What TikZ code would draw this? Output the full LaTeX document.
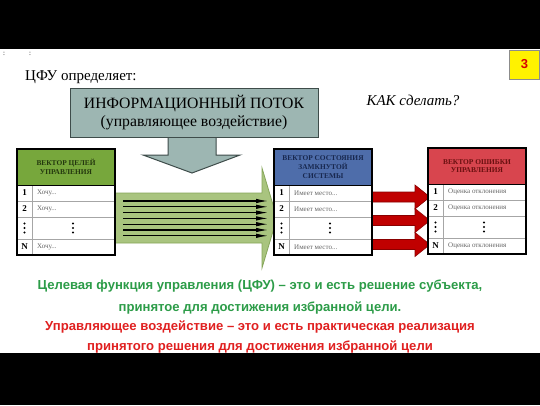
\documentclass[tikz,border=0pt]{standalone}
\usepackage{fontspec}
\setmainfont{Liberation Serif}
\newfontfamily\arialfont{Liberation Sans}
\usetikzlibrary{arrows.meta}
\definecolor{infobg}{HTML}{9DB6B2}
\definecolor{infoedge}{HTML}{3E4C4A}
\definecolor{gHead}{HTML}{77A73C}
\definecolor{gHeadTxt}{HTML}{24380E}
\definecolor{bHead}{HTML}{4E6DAA}
\definecolor{bHeadTxt}{HTML}{18284F}
\definecolor{rHead}{HTML}{D8454E}
\definecolor{rHeadTxt}{HTML}{6A1010}
\definecolor{gArrow}{HTML}{A9C47F}
\definecolor{gArrowEdge}{HTML}{86A65A}
\definecolor{rArrow}{HTML}{C00000}
\definecolor{rArrowEdge}{HTML}{8A0000}
\definecolor{txtGreen}{HTML}{2C9C48}
\definecolor{txtRed}{HTML}{E02020}
\tikzset{
  numtxt/.style={font=\bfseries\fontsize{9}{10}\selectfont, inner sep=0pt},
  rowtxt/.style={font=\fontsize{7}{8}\selectfont, text=black!60, inner sep=0pt, anchor=west},
  headtxt/.style={font=\bfseries\fontsize{7.4}{8.6}\selectfont, align=center, inner sep=0pt},
  bottomtxt/.style={font=\arialfont\bfseries\fontsize{13.1}{15}\selectfont, inner sep=0pt},
  blackline/.style={line width=1.1pt, -{Latex[length=12pt,width=4.5pt]}}
}
\newcommand\drawvtab[7]{%
  \begin{scope}[shift={(#2,#3)}]
    \fill[white] (0,0) rectangle (98,106);
    \fill[#4] (0,0) rectangle (98,36);
    \node[headtxt, text=#5] (#1-h) at (49,18) {#6};
    \draw[black!35, line width=0.6pt] (0,52) -- (98,52) (0,68) -- (98,68) (0,90) -- (98,90) (15,36) -- (15,106);
    \draw[black, line width=1pt] (0,36) -- (98,36);
    \draw[black, line width=1.3pt] (0,0) rectangle (98,106);
    \node[numtxt] (#1-n1) at (7.5,44) {1};
    \node[numtxt] (#1-n2) at (7.5,60) {2};
    \node[numtxt] (#1-nN) at (7.5,98) {N};
    \node[rowtxt] (#1-t1) at (20,44) {#7};
    \node[rowtxt] (#1-t2) at (20,60) {#7};
    \node[rowtxt] (#1-tN) at (20,98) {#7};
    \foreach \d in {-4.5,0,4.5} {
      \fill (7.5,79+\d) circle (1.1pt);
      \fill (56,79+\d) circle (1.1pt);
    }
  \end{scope}
}
\begin{document}
\begin{tikzpicture}[x=1pt,y=-1pt]
\useasboundingbox (0,0) rectangle (540,405);
\fill[white] (0,0) rectangle (540,405);
\fill[black] (0,0) rectangle (540,49);
\fill[black] (0,353) rectangle (540,405);

% small marks
\node[font=\fontsize{7}{8}\selectfont, inner sep=0pt] (c1) at (4,54) {:};
\node[font=\fontsize{7}{8}\selectfont, inner sep=0pt] (c2) at (30,54) {:};

% title
\node[font=\fontsize{15}{18}\selectfont, anchor=base west, inner sep=0pt] (title) at (25,80) {ЦФУ определяет:};
\node[font=\itshape\fontsize{15}{18}\selectfont, inner sep=0pt] (how) at (413,100) {КАК сделать?};

% page number
\node[draw=black!45, fill=yellow, minimum width=30pt, minimum height=29pt, inner sep=0pt,
      font=\arialfont\bfseries\fontsize{13}{15}\selectfont, text=red!85!black] (pg) at (524.5,64.5) {3};

% down arrow
\draw[fill=infobg, draw=infoedge, line width=1pt]
  (168,130) -- (216,130) -- (216,155) -- (240,155) -- (192,173) -- (143,155) -- (168,155) -- cycle;
% info box
\node[draw=infoedge, fill=infobg, line width=1pt, minimum width=248pt, minimum height=49pt,
      inner sep=0pt, align=center, font=\fontsize{15.7}{18}\selectfont] (info) at (194,112.5)
  {ИНФОРМАЦИОННЫЙ ПОТОК\\(управляющее воздействие)};

% green arrow
\draw[fill=gArrow, draw=gArrowEdge, line width=0.8pt]
  (110,193) -- (262,193) -- (262,168) -- (277,218) -- (262,268) -- (262,243) -- (110,243) -- cycle;
\foreach \yy [count=\i] in {201,206.8,212.6,218.4,224.2,230,235.8} {
  \coordinate (bs\i) at (123,\yy);
  \coordinate (be\i) at (268,\yy);
  \draw[blackline] (bs\i) -- (be\i);
}

% red arrows
\foreach \yc [count=\i] in {197,220.5,244.5} {
  \draw[fill=rArrow, draw=rArrowEdge, line width=0.6pt]
    (371,\yc-5) -- (415,\yc-5) -- (415,\yc-12) -- (430,\yc) -- (415,\yc+12) -- (415,\yc+5) -- (371,\yc+5) -- cycle;
}

% tables
\drawvtab{L}{17}{149}{gHead}{gHeadTxt}{ВЕКТОР ЦЕЛЕЙ\\УПРАВЛЕНИЯ}{Хочу...}
\drawvtab{M}{274}{149}{bHead}{bHeadTxt}{ВЕКТОР СОСТОЯНИЯ\\ЗАМКНУТОЙ\\СИСТЕМЫ}{Имеет место...}
\drawvtab{R}{428}{148}{rHead}{rHeadTxt}{ВЕКТОР ОШИБКИ\\УПРАВЛЕНИЯ}{Оценка отклонения}

% bottom text
\node[bottomtxt, text=txtGreen] (b1) at (260,286) {Целевая функция управления (ЦФУ) – это и есть решение субъекта,};
\node[bottomtxt, text=txtGreen] (b2) at (260,308) {принятое для достижения избранной цели.};
\node[bottomtxt, text=txtRed] (b3) at (260,327) {Управляющее воздействие – это и есть практическая реализация};
\node[bottomtxt, text=txtRed] (b4) at (260,347) {принятого решения для достижения избранной цели};
\end{tikzpicture}
\end{document}
